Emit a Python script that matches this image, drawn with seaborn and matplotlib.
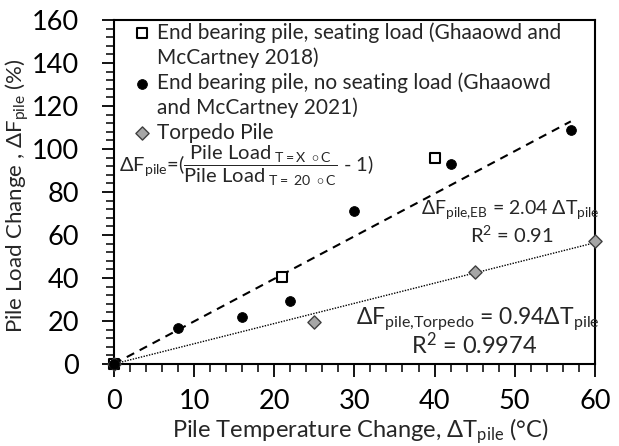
import numpy as np
import pandas as pd
import seaborn as sns
import matplotlib.pyplot as plt
from matplotlib.lines import Line2D
from matplotlib.ticker import MultipleLocator

# data
seat_dT = [0, 21, 40]
seat_dF = [0, 40.5, 96]
noseat_dT = [0, 8, 16, 22, 30, 42, 57]
noseat_dF = [0, 16.5, 22, 29.5, 71, 93, 109]
torp_dT = [0, 25, 45, 60]
torp_dF = [0, 19.5, 43, 57]

eb_slope = 1.98      # drawn trendline (label says 2.04)
eb_xmax = 57
torp_slope = 0.94
torp_xmax = 60

sns.set_theme(style="ticks")
plt.rcParams['font.family'] = ['Lato', 'DejaVu Sans']
plt.rcParams['mathtext.fontset'] = 'custom'
plt.rcParams['mathtext.rm'] = 'Lato'
plt.rcParams['mathtext.it'] = 'Lato'
plt.rcParams['mathtext.bf'] = 'Lato:bold'

lab_seat = ["End bearing pile, seating load (Ghaaowd and", "McCartney 2018)"]
lab_noseat = ["End bearing pile, no seating load (Ghaaowd", "and McCartney 2021)"]
lab_torp = "Torpedo Pile"

df = pd.concat([
    pd.DataFrame({"dT": seat_dT, "dF": seat_dF, "series": "seat"}),
    pd.DataFrame({"dT": noseat_dT, "dF": noseat_dF, "series": "noseat"}),
    pd.DataFrame({"dT": torp_dT, "dF": torp_dF, "series": "torp"}),
])

eb_x = np.array([0, eb_xmax])
tp_x = np.array([0, torp_xmax])
trend = pd.concat([
    pd.DataFrame({"dT": eb_x, "dF": eb_slope * eb_x, "fit": "eb"}),
    pd.DataFrame({"dT": tp_x, "dF": torp_slope * tp_x, "fit": "torp"}),
])

fig = plt.figure(figsize=(6.19, 4.46), dpi=100)
ax = fig.add_axes([0.184, 0.184, 0.777, 0.771])

sns.lineplot(data=trend[trend.fit == "eb"], x="dT", y="dF", ax=ax, color="black",
             linestyle=(0, (4, 3)), linewidth=1.5, legend=False)
sns.lineplot(data=trend[trend.fit == "torp"], x="dT", y="dF", ax=ax, color="black",
             linestyle=(0, (1, 1)), linewidth=1.0, legend=False)

sns.scatterplot(data=df[df.series == "seat"], x="dT", y="dF", ax=ax, marker="s", s=50,
                facecolor="white", edgecolor="black", linewidth=1.5, label=lab_seat[0],
                zorder=3, clip_on=False)
sns.scatterplot(data=df[df.series == "noseat"], x="dT", y="dF", ax=ax, marker="o", s=50,
                color="black", edgecolor="black", label=lab_noseat[0], zorder=4, clip_on=False)
sns.scatterplot(data=df[df.series == "torp"], x="dT", y="dF", ax=ax, marker="D", s=45,
                facecolor="#a6a6a6", edgecolor="#404040", linewidth=1.0, label=lab_torp,
                zorder=3, clip_on=False)

ax.set_xlim(0, 60)
ax.set_ylim(0, 160)
ax.xaxis.set_major_locator(MultipleLocator(10))
ax.xaxis.set_minor_locator(MultipleLocator(2))
ax.yaxis.set_major_locator(MultipleLocator(20))
ax.yaxis.set_minor_locator(MultipleLocator(4))
ax.tick_params(which="major", direction="out", length=9, width=1.3, labelsize=19.5,
               color="black", labelcolor="black")
ax.tick_params(which="minor", direction="out", length=6, width=1.1, color="black")
ax.tick_params(axis="x", which="major", pad=9)
ax.tick_params(axis="y", which="major", pad=16)
for sp in ax.spines.values():
    sp.set_visible(True)
    sp.set_linewidth(1.5)
    sp.set_color("black")

ax.set_xlabel(r"Pile Temperature Change, $\Delta$T$_{\mathrm{pile}}$ (°C)", fontsize=17)
ax.set_ylabel(r"Pile Load Change , $\Delta$F$_{\mathrm{pile}}$ (%)", fontsize=16)
ax.xaxis.set_label_coords(0.512, -0.152)
ax.yaxis.set_label_coords(-0.172, 0.49)

ax.text(0.6, 92,
        r"$\Delta\mathrm{F_{pile}}$=($\dfrac{\mathrm{Pile\ Load}_{\ \mathrm{T=X\ \circ C}}}{\mathrm{Pile\ Load}_{\ \mathrm{T=\ 20\ \circ C}}}$ - 1)",
        fontsize=14.5, va="center", ha="left")
ax.text(60.6, 72, r"$\Delta$F$_{\mathrm{pile{,}EB}}$ = 2.04 $\Delta$T$_{\mathrm{pile}}$",
        fontsize=14, ha="right", va="center", clip_on=False)
ax.text(49.7, 60, r"R$^{2}$ = 0.91", fontsize=14.5, ha="center", va="center")
ax.text(60.6, 21, r"$\Delta$F$_{\mathrm{pile{,}Torpedo}}$ = 0.94$\Delta$T$_{\mathrm{pile}}$",
        fontsize=16.5, ha="right", va="center", clip_on=False)
ax.text(45, 9, r"R$^{2}$ = 0.9974", fontsize=17, ha="center", va="center")

# legend: second lines of the long labels get a blank handle so markers sit on line one
handles, labels = ax.get_legend_handles_labels()
blank = Line2D([], [], linestyle="none", marker=None)
handles = [handles[0], blank, handles[1], blank, handles[2]]
labels = [lab_seat[0], lab_seat[1], lab_noseat[0], lab_noseat[1], lab_torp]
ax.legend(handles, labels, loc="upper left", bbox_to_anchor=(0.01, 1.03), frameon=False,
          fontsize=15, handletextpad=0.25, labelspacing=0.22, borderaxespad=0.2, handlelength=1.0)

fig.savefig("out.png", dpi=100)
